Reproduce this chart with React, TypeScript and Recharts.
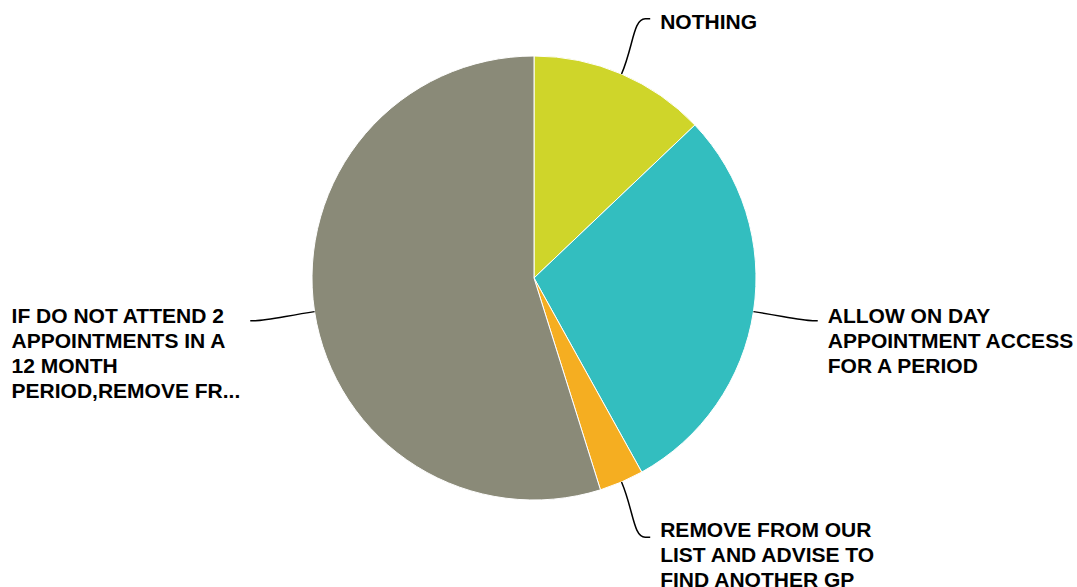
import React from 'react';
import { PieChart, Pie, Cell } from 'recharts';

// Slices, clockwise from 12 o'clock
const categories = [
  'NOTHING',
  'ALLOW ON DAY APPOINTMENT ACCESS FOR A PERIOD',
  'REMOVE FROM OUR LIST AND ADVISE TO FIND ANOTHER GP',
  'IF DO NOT ATTEND 2 APPOINTMENTS IN A 12 MONTH PERIOD,REMOVE FR...',
];
const counts = [4, 9, 1, 17];
const labelLines = [
  ['NOTHING'],
  ['ALLOW ON DAY', 'APPOINTMENT ACCESS', 'FOR A PERIOD'],
  ['REMOVE FROM OUR', 'LIST AND ADVISE TO', 'FIND ANOTHER GP'],
  ['IF DO NOT ATTEND 2', 'APPOINTMENTS IN A', '12 MONTH', 'PERIOD,REMOVE FR...'],
];
const colors = ['#CFD52A', '#33BEBF', '#F5AE21', '#8A8A78'];

const data = categories.map((name, i) => ({ name, value: counts[i], lines: labelLines[i] }));

const FONT = 'bold 21px "Liberation Sans", Arial, sans-serif';
const LINE_H = 25;
const RADIAN = Math.PI / 180;

let ctx: CanvasRenderingContext2D | null = null;
const measure = (s: string): number => {
  if (!ctx) ctx = document.createElement('canvas').getContext('2d');
  if (!ctx) return s.length * 12;
  ctx.font = FONT;
  return ctx.measureText(s).width;
};

// Curved leader line + multi-line label, placed from the slice's mid angle
const renderLabel = (props: any) => {
  const { cx, cy, midAngle, outerRadius, payload, index } = props;
  const cos = Math.cos(-midAngle * RADIAN);
  const sin = Math.sin(-midAngle * RADIAN);
  const right = cos >= 0;
  const dir = right ? 1 : -1;
  const sx = cx + outerRadius * cos;
  const sy = cy + outerRadius * sin;
  const mx = cx + (outerRadius + 60) * cos;
  const my = cy + (outerRadius + 60) * sin;
  const c1x = cx + (outerRadius + 30) * cos;
  const c1y = cy + (outerRadius + 30) * sin;
  const c2x = mx - dir * 12;
  const ex = mx + dir * 5;
  const lines: string[] = payload.lines;
  const width = Math.max(...lines.map(measure));
  const tx = right ? ex + 10 : ex - 10 - width;
  const ty = my + (sin < -0.5 ? 2 : sin > 0.5 ? -8 : -6);
  return (
    <g key={`lbl-${index}`}>
      <path
        d={`M${sx},${sy} C${c1x},${c1y} ${c2x},${my} ${mx},${my} L${ex},${my}`}
        stroke="#000"
        strokeWidth={1.5}
        fill="none"
      />
      <text
        x={tx}
        y={ty}
        fill="#000"
        style={{ font: FONT }}
        textAnchor="start"
        dominantBaseline="central"
      >
        {lines.map((l, i) => (
          <tspan key={i} x={tx} dy={i === 0 ? 0 : LINE_H}>
            {l}
          </tspan>
        ))}
      </text>
    </g>
  );
};

export default function App() {
  if (typeof document !== 'undefined') document.body.style.margin = '0';
  return (
    <div style={{ width: 1077, height: 587, background: '#fff' }}>
      <PieChart width={1077} height={587} margin={{ top: 0, right: 0, bottom: 0, left: 0 }}>
        <Pie
          data={data}
          dataKey="value"
          nameKey="name"
          cx={534}
          cy={278}
          outerRadius={222}
          startAngle={90}
          endAngle={-270}
          stroke="#fff"
          strokeWidth={1}
          label={renderLabel}
          labelLine={false}
          isAnimationActive={false}
        >
          {data.map((d, i) => (
            <Cell key={d.name} fill={colors[i]} />
          ))}
        </Pie>
      </PieChart>
    </div>
  );
}
